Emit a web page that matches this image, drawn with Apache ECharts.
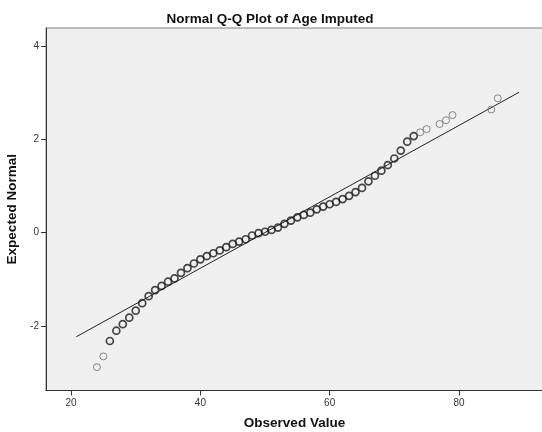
<!DOCTYPE html>
<html>
<head>
<meta charset="utf-8">
<title>Normal Q-Q Plot of Age Imputed</title>
<script src="https://cdn.jsdelivr.net/npm/echarts@6/dist/echarts.min.js"></script>
<style>
  html, body { margin: 0; padding: 0; background: #ffffff; }
  #chart { width: 542px; height: 432px; }
</style>
</head>
<body>
<div id="chart"></div>
<script>
// Observed ages and their expected normal scores
const ages = [
  24, 25, 26, 27, 28, 29, 30, 31, 32, 33, 34, 35, 36, 37, 38, 39, 40, 41, 42, 43,
  44, 45, 46, 47, 48, 49, 50, 51, 52, 53, 54, 55, 56, 57, 58, 59, 60, 61, 62, 63,
  64, 65, 66, 67, 68, 69, 70, 71, 72, 73, 74, 75, 77, 78, 79, 85, 86
];
const expectedNormal = [
  -2.88, -2.65, -2.32, -2.10, -1.96, -1.82, -1.67, -1.51, -1.36, -1.23, -1.14, -1.05, -0.98, -0.86, -0.76, -0.66, -0.57, -0.50, -0.44, -0.38,
  -0.31, -0.24, -0.19, -0.14, -0.06, -0.01, 0.02, 0.06, 0.11, 0.19, 0.26, 0.33, 0.38, 0.43, 0.50, 0.56, 0.61, 0.66, 0.72, 0.79,
  0.87, 0.96, 1.10, 1.22, 1.33, 1.45, 1.59, 1.76, 1.95, 2.07, 2.15, 2.22, 2.33, 2.41, 2.52, 2.64, 2.88
];
// Ages observed only once (drawn with a lighter outline)
const singleAges = [24, 25, 74, 75, 77, 78, 79, 85, 86];

// Reference line endpoints (normal fit)
const refLineX = [20.8, 89.3];
const refLineY = [-2.23, 3.01];

// Tick labels
const xTicks = [20, 40, 60, 80];
const yTicks = [-2, 0, 2, 4];

const points = ages.map((a, i) => {
  const single = singleAges.indexOf(a) >= 0;
  return {
    value: [a, expectedNormal[i]],
    itemStyle: single
      ? { color: 'rgba(0,0,0,0)', borderColor: '#6a6a6a', borderWidth: 1 }
      : { color: 'rgba(0,0,0,0)', borderColor: '#1a1a1a', borderWidth: 1.7 }
  };
});

const chart = echarts.init(document.getElementById('chart'), null, { renderer: 'canvas' });

const labelFont = { fontFamily: 'Liberation Sans, Arial, sans-serif', fontSize: 10, color: '#333' };
const nameFont = { fontFamily: 'Liberation Sans, Arial, sans-serif', fontSize: 13.5, fontWeight: 'bold', color: '#111' };

chart.setOption({
  animation: false,
  backgroundColor: '#ffffff',
  title: {
    text: 'Normal Q-Q Plot of Age Imputed',
    left: 265,
    top: 7,
    textAlign: 'center',
    textStyle: nameFont
  },
  grid: {
    left: 46, right: -1, top: 28, bottom: 41.5,
    outerBoundsMode: 'none',
    containLabel: false,
    show: true,
    backgroundColor: '#f0f0f0',
    borderColor: '#808080',
    borderWidth: 1
  },
  xAxis: {
    type: 'value',
    min: 16.12, max: 93.0,
    name: 'Observed Value',
    nameLocation: 'middle',
    nameGap: 26,
    nameTextStyle: nameFont,
    axisLine: { show: true, onZero: false, lineStyle: { color: '#333', width: 1 } },
    axisTick: { show: true, length: 5, customValues: xTicks, lineStyle: { color: '#333' } },
    axisLabel: Object.assign({ margin: 8, customValues: xTicks }, labelFont),
    splitLine: { show: false }
  },
  yAxis: {
    type: 'value',
    min: -3.381, max: 4.386,
    name: 'Expected Normal',
    nameLocation: 'middle',
    nameGap: 23,
    nameTextStyle: nameFont,
    axisLine: { show: true, onZero: false, lineStyle: { color: '#333', width: 1 } },
    axisTick: { show: true, length: 5, customValues: yTicks, lineStyle: { color: '#333' } },
    axisLabel: Object.assign({ margin: 7, customValues: yTicks }, labelFont),
    splitLine: { show: false }
  },
  series: [
    {
      type: 'line',
      data: refLineX.map((x, i) => [x, refLineY[i]]),
      symbol: 'none',
      lineStyle: { color: '#222', width: 1 },
      silent: true,
      z: 1
    },
    {
      type: 'scatter',
      data: points,
      symbol: 'circle',
      symbolSize: 7,
      z: 2
    }
  ]
});
</script>
</body>
</html>
